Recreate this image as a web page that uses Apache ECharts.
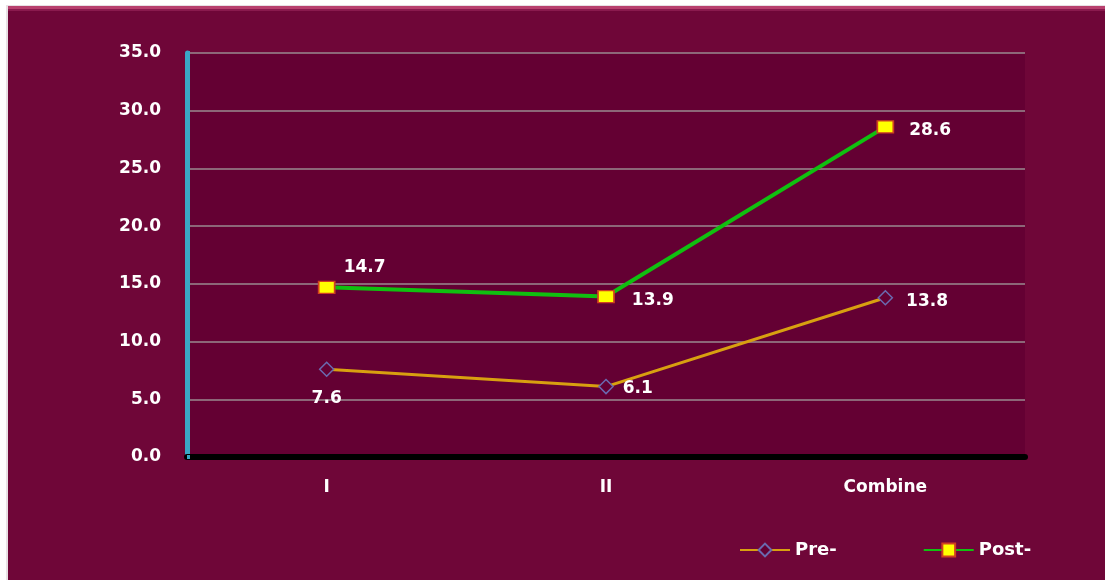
<!DOCTYPE html>
<html>
<head>
<meta charset="utf-8">
<script src="https://cdn.jsdelivr.net/npm/echarts@6/dist/echarts.min.js"></script>
<style>
html,body{margin:0;padding:0;background:#ffffff;}
#c{width:1105px;height:580px;}
</style>
</head>
<body>
<div id="c"></div>
<script>
const categories = ['I', 'II', 'Combine'];
const preValues = [7.6, 6.1, 13.8];
const postValues = [14.7, 13.9, 28.6];
const seriesNames = ['Pre-', 'Post-'];

const chart = echarts.init(document.getElementById('c'), null, {renderer: 'canvas'});
const FONT = 'DejaVu Sans, Liberation Sans, Arial';
const labelFont = {color: '#ffffff', fontFamily: FONT, fontWeight: 'bold', fontSize: 17};

const preLabelPos = [
  {position: 'bottom', offset: [0, 8]},
  {position: 'right', offset: [4, 2]},
  {position: 'right', offset: [8, 4]}
];
const postLabelPos = [
  {position: 'top', offset: [38, 0]},
  {position: 'right', offset: [12, 4]},
  {position: 'right', offset: [10, 4]}
];

chart.setOption({
  backgroundColor: 'transparent',
  animation: false,
  graphic: [
    {type: 'rect', z: -10, shape: {x: 6, y: 5, width: 1105, height: 580}, style: {fill: '#e8e0e4'}},
    {type: 'rect', z: -9, shape: {x: 8, y: 6, width: 1100, height: 580}, style: {fill: '#6f0638'}},
    {type: 'rect', z: -8, shape: {x: 8, y: 6, width: 1100, height: 3}, style: {fill: '#b8406e'}},
    {type: 'rect', z: -8, shape: {x: 8, y: 9, width: 1100, height: 2}, style: {fill: '#8a1a4e'}}
  ],
  grid: {left: 187, right: 80, top: 53, bottom: 123, backgroundColor: '#640033', show: true, borderWidth: 0},
  legend: {
    data: seriesNames,
    left: 734, top: 536,
    itemWidth: 50, itemHeight: 16, itemGap: 86,
    textStyle: {color: '#ffffff', fontFamily: FONT, fontWeight: 'bold', fontSize: 18}
  },
  xAxis: {
    type: 'category',
    data: categories,
    boundaryGap: true,
    axisLine: {show: true, lineStyle: {color: '#000000', width: 6}},
    axisTick: {show: false},
    axisLabel: {color: '#ffffff', fontFamily: FONT, fontWeight: 'bold', fontSize: 17, margin: 22}
  },
  yAxis: {
    type: 'value',
    min: 0, max: 35, interval: 5,
    axisLine: {show: true, lineStyle: {color: '#3aa6c6', width: 5}},
    axisTick: {show: true, length: 3, inside: true, lineStyle: {color: '#3aa6c6', width: 4}},
    splitLine: {show: true, lineStyle: {color: '#9a8a90', width: 1.5}},
    axisLabel: {color: '#ffffff', fontFamily: FONT, fontWeight: 'bold', fontSize: 17, margin: 26,
      formatter: v => v.toFixed(1)}
  },
  series: [
    {
      name: seriesNames[0], type: 'line',
      data: preValues.map((v, i) => ({value: v, label: Object.assign({}, preLabelPos[i])})),
      symbol: 'diamond', symbolSize: 14,
      itemStyle: {color: '#640033', borderColor: '#6a6ab0', borderWidth: 1.5},
      lineStyle: {color: '#d8a010', width: 3},
      label: Object.assign({show: true, formatter: p => p.value.toFixed(1)}, labelFont),
      z: 3
    },
    {
      name: seriesNames[1], type: 'line',
      data: postValues.map((v, i) => ({value: v, label: Object.assign({}, postLabelPos[i])})),
      symbol: 'rect', symbolSize: [16, 12],
      itemStyle: {color: '#ffff00', borderColor: '#d04020', borderWidth: 1.5},
      lineStyle: {color: '#10c010', width: 4},
      label: Object.assign({show: true, formatter: p => p.value.toFixed(1)}, labelFont),
      z: 4
    }
  ]
});
</script>
</body>
</html>
